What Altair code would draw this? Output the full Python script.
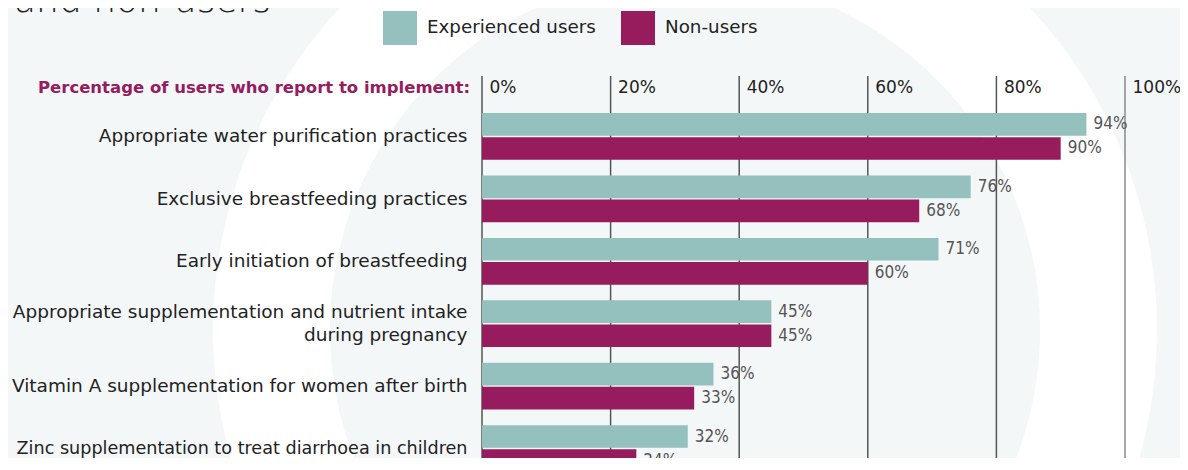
import altair as alt
import pandas as pd

# ---- data ----
categories = [
    "Appropriate water purification practices",
    "Exclusive breastfeeding practices",
    "Early initiation of breastfeeding",
    "Appropriate supplementation and nutrient intake|during pregnancy",
    "Vitamin A supplementation for women after birth",
    "Zinc supplementation to treat diarrhoea in children",
]
series = ["Experienced users", "Non-users"]
experienced = [94, 76, 71, 45, 36, 32]
non_users = [90, 68, 60, 45, 33, 24]
tick_values = [0, 20, 40, 60, 80, 100]
header_text = "Percentage of users who report to implement:"
title_text = "and non-users"

rows = []
for c, e, n in zip(categories, experienced, non_users):
    rows.append({"category": c, "series": series[0], "value": e, "label": f"{e}%"})
    rows.append({"category": c, "series": series[1], "value": n, "label": f"{n}%"})
df = pd.DataFrame(rows)

# ---- style ----
TEAL = "#94c1bd"
PURPLE = "#961c5e"
BG = "#f4f7f8"
FONT = "DejaVu Sans"
NUMFONT = "DejaVu Sans Condensed"
LEFT, TOP = 474, 68
W, H = 643, 382
RIGHT = 1172 - LEFT - W
YRANGE = 433

xscale = alt.Scale(domain=[0, 100], nice=False)
xaxis = alt.Axis(
    orient="top", values=tick_values, grid=False, domain=False, ticks=False,
    labelExpr="datum.value + '%'", labelAlign="left", labelOffset=7,
    labelBaseline="middle", labelPadding=-11, labelFlush=False,
    labelOverlap=False, labelFontSize=17, labelFont=FONT, labelColor="#222",
    title=None, zindex=1,
)
yscale = alt.Scale(domain=categories, range=[0, YRANGE], paddingInner=0.25, paddingOuter=0.593)
yaxis = alt.Axis(
    labelExpr="split(datum.label, '|')", domain=False, ticks=False,
    labelPadding=15,
    labelFontSize=alt.condition("indexof(datum.value, 'Zinc') == 0", alt.value(17.6), alt.value(18.5)),
    labelOffset=alt.condition("indexof(datum.value, '|') >= 0", alt.value(-11.5), alt.value(0)),
    labelFont=FONT, labelColor="#222",
    labelLimit=600, labelLineHeight=23, title=None, zindex=1,
)
yoff = alt.YOffset("series:N", sort=series, scale=alt.Scale(domain=series, paddingInner=0.06))

one = pd.DataFrame({"k": [0]})

ring_outer = alt.Chart(one).mark_arc(radius=472, theta=0, theta2=6.2832, fill="#ffffff").encode(
    x=alt.value(203), y=alt.value(254))
ring_inner = alt.Chart(one).mark_arc(radius=355, theta=0, theta2=6.2832, fill=BG).encode(
    x=alt.value(203), y=alt.value(254))

grid = alt.Chart(pd.DataFrame({"value": tick_values})).mark_rule(strokeWidth=1.5).encode(
    x=alt.X("value:Q", scale=xscale, axis=xaxis),
    y=alt.value(0), y2=alt.value(YRANGE),
    color=alt.condition(alt.datum.value == 100, alt.value("#8a8a8a"), alt.value("#555555")),
)

bars = alt.Chart(df).mark_bar().encode(
    x=alt.X("value:Q", scale=xscale, axis=xaxis),
    y=alt.Y("category:N", sort=categories, scale=yscale, axis=yaxis),
    yOffset=yoff,
    color=alt.Color(
        "series:N",
        scale=alt.Scale(domain=series, range=[TEAL, PURPLE]),
        legend=alt.Legend(
            orient="none", legendX=-99, legendY=-65, direction="horizontal",
            symbolType="square", symbolSize=1156, symbolStrokeWidth=0, symbolOpacity=1,
            labelFontSize=18.3, labelFont=FONT, labelColor="#222", labelOffset=10,
            labelLimit=400, columnPadding=25, title=None,
        ),
    ),
)

values = alt.Chart(df).mark_text(
    align="left", baseline="middle", dx=7, font=NUMFONT, fontSize=17, color="#555"
).encode(
    x=alt.X("value:Q", scale=xscale, axis=xaxis),
    y=alt.Y("category:N", sort=categories, scale=yscale, axis=yaxis),
    yOffset=yoff,
    text="label:N",
)

header = alt.Chart(pd.DataFrame({"t": [header_text]})).mark_text(
    align="right", baseline="middle", font=FONT, fontSize=16.5, fontWeight="bold", color=PURPLE
).encode(text="t:N", x=alt.value(-12), y=alt.value(12))

title = alt.Chart(pd.DataFrame({"t": [title_text]})).mark_text(
    align="left", baseline="alphabetic", font=FONT, fontSize=36, fontWeight=200, color="#222"
).encode(text="t:N", x=alt.value(-468), y=alt.value(-64))

chart = alt.layer(ring_outer, ring_inner, grid, bars, values, header, title).properties(
    width=W, height=H,
    padding={"left": LEFT, "top": TOP, "right": RIGHT, "bottom": 0},
    autosize=alt.AutoSizeParams(type="none"),
    background=BG,
).configure_view(strokeWidth=0)

chart.save("out.html", embed_options={"renderer": "svg", "actions": False})
